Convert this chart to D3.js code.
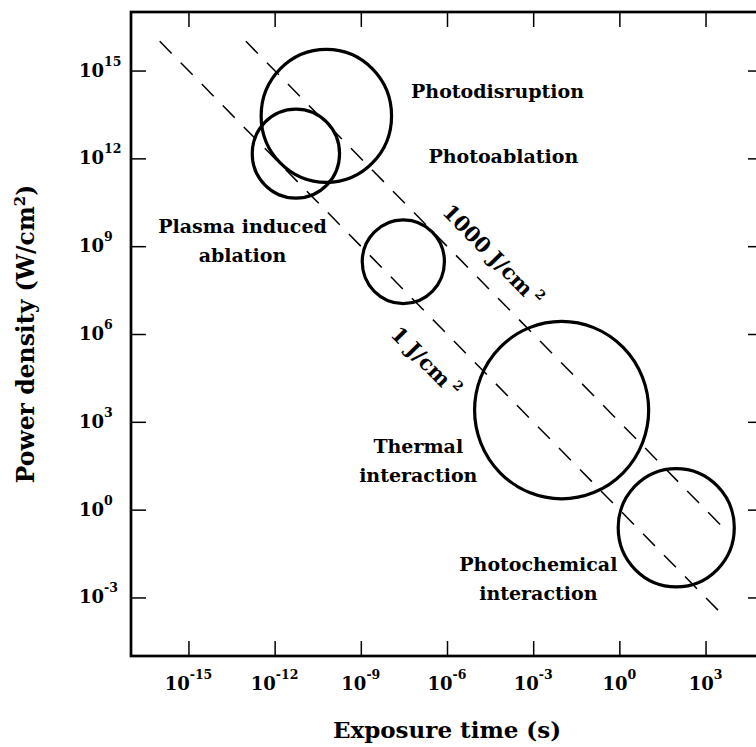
<!DOCTYPE html>
<html><head><meta charset="utf-8">
<script src="https://cdn.jsdelivr.net/npm/d3@7"></script>
<style>body{margin:0;background:#fff}</style>
</head><body>
<svg id="c" width="756" height="747"></svg>
<script>
// ---- data ----
const xTickExps = [-15, -12, -9, -6, -3, 0, 3];
const yTickExps = [15, 12, 9, 6, 3, 0, -3];

// interaction regions: centre (log10 t, log10 P) and radius in decades
const regionLogT   = [-10.2, -11.26, -7.52, -2.01, 1.98];
const regionLogP   = [13.45, 12.16, 8.47, 3.40, -0.62];
const regionRadius = [2.27, 1.52, 1.43, 3.03, 2.02];

// constant fluence lines P * t = F (J/cm^2)
const fluences        = [1, 1000];
const fluenceStartLogT = [-16, -13];
const fluenceEndLogT   = [3.67, 3.67];
const fluenceLabelText = ["1 J/cm", "1000 J/cm"];
const fluenceLabelLogT = [-8.0, -6.2];
const fluenceLabelLogP = [5.96, 10.13];

// region labels
const labelTexts = ["Photodisruption", "Photoablation", "Plasma induced", "ablation",
                    "Thermal", "interaction", "Photochemical", "interaction"];
const labelLogT  = [-4.24, -4.04, -13.12, -13.12, -7.0, -7.0, -2.82, -2.82];
const labelLogP  = [14.06, 11.84, 9.46, 8.45, 1.93, 0.94, -2.10, -3.09];

// ---- drawing ----
const svg = d3.select("#c");
const L = 131, R = 763, T = 12, B = 656;
const x = d3.scaleLog().domain([1e-17, 1e5]).range([L, R]);
const y = d3.scaleLog().domain([1e-5, 1e17]).range([B, T]);
const p10 = e => Math.pow(10, e);
const FONT = "'DejaVu Serif', serif";

// frame
svg.append("rect").attr("x", L).attr("y", T).attr("width", R - L).attr("height", B - T)
  .attr("fill", "none").attr("stroke", "#000").attr("stroke-width", 2.7);

// ticks (inward) on all four sides
const xVals = xTickExps.map(p10), yVals = yTickExps.map(p10);
function styleAxis(g) {
  g.select(".domain").remove();
  g.selectAll(".tick line").attr("stroke", "#000").attr("stroke-width", 1.5);
  g.selectAll(".tick text").remove();
}
svg.append("g").attr("transform", `translate(0,${B})`)
  .call(d3.axisBottom(x).tickValues(xVals).tickSize(-15)).call(styleAxis);
svg.append("g").attr("transform", `translate(0,${T})`)
  .call(d3.axisTop(x).tickValues(xVals).tickSize(-15)).call(styleAxis);
svg.append("g").attr("transform", `translate(${L},0)`)
  .call(d3.axisLeft(y).tickValues(yVals).tickSize(-15)).call(styleAxis);
svg.append("g").attr("transform", `translate(${R},0)`)
  .call(d3.axisRight(y).tickValues(yVals).tickSize(-15)).call(styleAxis);

// tick labels
function powLabel(sel) {
  sel.append("tspan").text("10");
  sel.append("tspan").attr("font-size", 12.5).attr("dy", -11).text(d => d);
}
svg.append("g").selectAll("text").data(xTickExps).join("text")
  .attr("x", d => x(p10(d))).attr("y", 690)
  .attr("text-anchor", "middle").attr("font-family", FONT).attr("font-weight", "bold")
  .attr("font-size", 18).call(powLabel);
svg.append("g").selectAll("text").data(yTickExps).join("text")
  .attr("x", 79).attr("y", d => y(p10(d)) + 6)
  .attr("font-family", FONT).attr("font-weight", "bold")
  .attr("font-size", 18).call(powLabel);

// axis titles
svg.append("text").attr("x", (L + R) / 2).attr("y", 738).attr("text-anchor", "middle")
  .attr("font-family", FONT).attr("font-weight", "bold").attr("font-size", 23)
  .text("Exposure time (s)");
const yt = svg.append("text").attr("transform", `translate(34,${(T + B) / 2}) rotate(-90)`)
  .attr("text-anchor", "middle").attr("font-family", FONT).attr("font-weight", "bold")
  .attr("font-size", 23.5);
yt.append("tspan").text("Power density (W/cm");
yt.append("tspan").attr("font-size", 15).attr("dy", -9).text("2");
yt.append("tspan").attr("dy", 9).text(")");

// fluence dashed lines
const line = d3.line().x(d => x(d[0])).y(d => y(d[1]));
fluences.forEach((F, i) => {
  const t0 = p10(fluenceStartLogT[i]), t1 = p10(fluenceEndLogT[i]);
  svg.append("path").attr("d", line([[t0, F / t0], [t1, F / t1]]))
    .attr("fill", "none").attr("stroke", "#000").attr("stroke-width", 1.5)
    .attr("stroke-dasharray", "17,13");
});
// fluence labels rotated along the lines
const ang = Math.atan2(y(1) - y(1e3), x(1e3) - x(1)) * 180 / Math.PI;
fluenceLabelText.forEach((s, i) => {
  const px = x(p10(fluenceLabelLogT[i])), py = y(p10(fluenceLabelLogP[i]));
  const t = svg.append("text").attr("transform", `translate(${px},${py}) rotate(${ang})`)
    .attr("font-family", FONT).attr("font-weight", "bold").attr("font-size", 21);
  t.append("tspan").text(s);
  t.append("tspan").attr("font-size", 13).attr("dx", 5).attr("dy", -9).text("2");
});

// interaction regions
svg.append("g").selectAll("ellipse").data(regionLogT).join("ellipse")
  .attr("cx", (d, i) => x(p10(d)))
  .attr("cy", (d, i) => y(p10(regionLogP[i])))
  .attr("rx", (d, i) => x(p10(d + regionRadius[i])) - x(p10(d)))
  .attr("ry", (d, i) => y(p10(regionLogP[i] - regionRadius[i])) - y(p10(regionLogP[i])))
  .attr("fill", "none").attr("stroke", "#000").attr("stroke-width", 3.2);

// region labels
svg.append("g").selectAll("text").data(labelTexts).join("text")
  .attr("x", (d, i) => x(p10(labelLogT[i])))
  .attr("y", (d, i) => y(p10(labelLogP[i])))
  .attr("text-anchor", "middle").attr("font-family", FONT).attr("font-weight", "bold")
  .attr("font-size", 19).text(d => d);
</script>
</body></html>
